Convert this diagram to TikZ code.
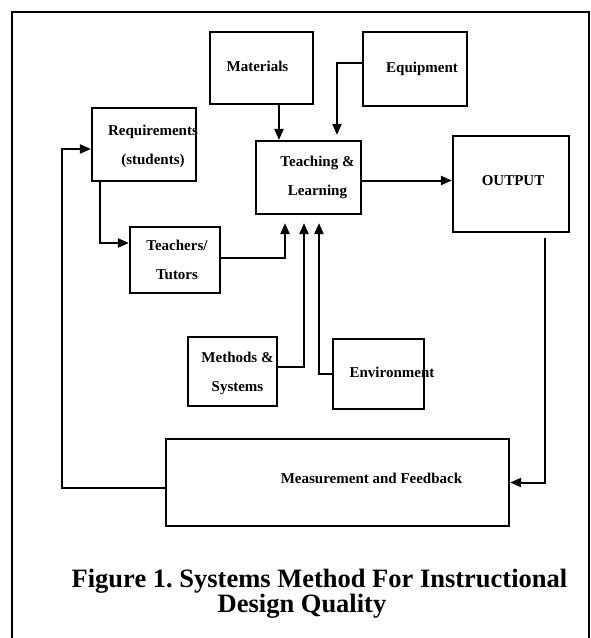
\documentclass[tikz,border=0pt]{standalone}
\usepackage{fontspec}
\setmainfont{Liberation Serif}
\frenchspacing
\usetikzlibrary{arrows.meta,positioning}
\tikzset{
  box/.style     = {draw, rectangle, line width=2.2pt, inner sep=0pt},
  txt/.style     = {font=\fontsize{15}{29}\selectfont\bfseries, align=center, inner sep=0pt},
  link/.style    = {draw, line width=2pt, -{Triangle[length=11pt,width=9pt]}},
  caption/.style = {font=\fontsize{26.5}{26}\selectfont\bfseries, inner sep=0pt, anchor=base}
}

\begin{document}
\begin{tikzpicture}[x=1pt,y=-1pt]
    \useasboundingbox (0,0) rectangle (591,638);

    % outer frame, open at the bottom
    \draw[line width=2.2pt] (12,638) -- (12,12) -- (589,12) -- (589,638);

    % the boxes
    \node[box, minimum width=103pt, minimum height=72pt] (mat) at (261.5,68) {};
    \node[box, minimum width=104pt, minimum height=74pt] (equ) at (415,69) {};
    \node[box, minimum width=104pt, minimum height=73pt] (req) at (144,144.5) {};
    \node[box, minimum width=105pt, minimum height=73pt] (teach) at (308.5,177.5) {};
    \node[box, minimum width=116pt, minimum height=96pt] (out) at (511,184) {};
    \node[box, minimum width=90pt, minimum height=66pt] (tut) at (175,260) {};
    \node[box, minimum width=89pt, minimum height=69pt] (meth) at (232.5,371.5) {};
    \node[box, minimum width=91pt, minimum height=70pt] (env) at (378.5,374) {};
    \node[box, minimum width=343pt, minimum height=87pt] (meas) at (337.5,482.5) {};

    % the texts, a little off centre as printed
    \node[txt] (mat-t) at ([xshift=-4pt,yshift=2pt]mat.center) {Materials};
    \node[txt] (equ-t) at ([xshift=7pt]equ.center) {Equipment};
    \node[txt] (req-t) at ([xshift=9pt,yshift=-2pt]req.center) {Requirements\\(students)};
    \node[txt] (teach-t) at ([xshift=9pt]teach.center) {Teaching \&\\Learning};
    \node[txt] (out-t) at ([xshift=2pt,yshift=3pt]out.center) {OUTPUT};
    \node[txt] (tut-t) at ([xshift=2pt]tut.center) {Teachers/\\Tutors};
    \node[txt] (meth-t) at ([xshift=5pt,yshift=-2pt]meth.center) {Methods \&\\Systems};
    \node[txt] (env-t) at ([xshift=13.5pt,yshift=2pt]env.center) {Environment};
    \node[txt] (meas-t) at ([xshift=34pt,yshift=4.5pt]meas.center) {Measurement and Feedback};

    % caption
    \node[caption] (cap1) at (319.5,587) {Figure 1. Systems Method For Instructional};
    \node[caption] (cap2) at (302,612) {Design Quality};

    % connectors into Teaching & Learning
    \draw[link] ([xshift=17.5pt]mat.south) -- ([xshift=-29.5pt]teach.north);
    \draw[link, shorten >=5pt] ([yshift=6pt]equ.west) -| ([xshift=28.5pt]teach.north);
    \draw[link, shorten >=8pt] ([yshift=2pt]tut.east) -| ([xshift=-23.5pt]teach.south);
    \draw[link, shorten >=8pt] ([yshift=4.5pt]meth.east) -| ([xshift=-4.5pt]teach.south);
    \draw[link, shorten >=8pt] (env.west) -| ([xshift=10.5pt]teach.south);

    % main flow
    \draw[link] ([yshift=-3pt]teach.east) -- ([yshift=-3pt]teach.east -| out.west);
    \draw[link] ([xshift=34pt,yshift=-5pt]out.south) |- (meas.east);
    \draw[link] ([xshift=-44pt]req.south) |- ([yshift=17pt]tut.west);

    % feedback loop back to the requirements
    \coordinate (fb) at (62,0);
    \draw[link] ([yshift=-5.5pt]meas.west) -- ([yshift=-5.5pt]meas.west -| fb) |- ([yshift=-4.5pt]req.west);
\end{tikzpicture}
\end{document}
